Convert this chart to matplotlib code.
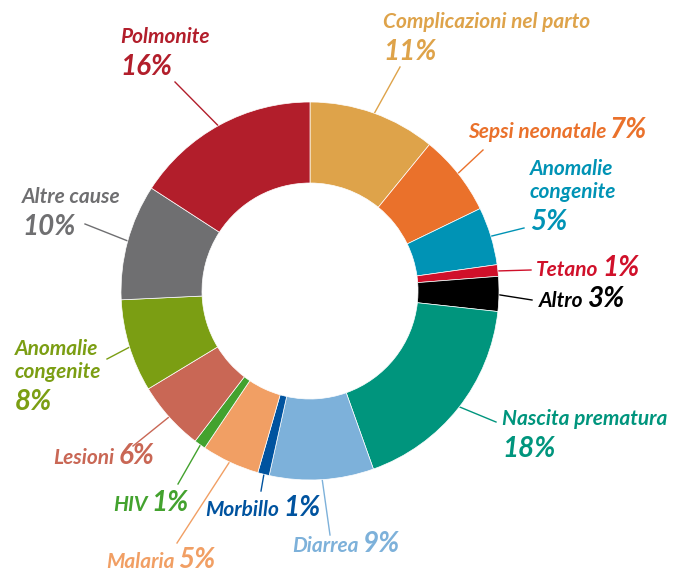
import matplotlib.pyplot as plt
import numpy as np

# Cause di morte neonatale (%), in senso orario dalle ore 12
causes = ["Complicazioni nel parto", "Sepsi neonatale", "Anomalie\ncongenite", "Tetano", "Altro",
          "Nascita prematura", "Diarrea", "Morbillo", "Malaria", "HIV", "Lesioni",
          "Anomalie\ncongenite", "Altre cause", "Polmonite"]
shares = [11, 7, 5, 1, 3, 18, 9, 1, 5, 1, 6, 8, 10, 16]
colors = ["#DEA34A", "#EA712B", "#0093B5", "#D0102A", "#000000",
          "#00957D", "#7DB1DA", "#00539F", "#F19F64", "#43A22E", "#C96755",
          "#7B9E13", "#6F6F71", "#B21E2B"]

# label layout in image pixels: left x, baseline of first line, percent inline?
label_pos = [(383, 28, False), (468, 138, True), (530, 175, False), (536, 276, True),
             (539, 307, True), (502, 425, False), (292, 552, True), (205, 516, True),
             (106, 568, True), (113, 511, True), (53, 464, True), (15, 355, False),
             (22, 203, False), (120, 43, False)]
leader_end = [(400, 67), (483, 150), (524, 228), (531, 270), (532, 300), (496, 422),
              (330, 535), (261, 491), (177, 543), (178, 484), (133, 446), (107, 359),
              (85, 224), (175, 82)]

W, H = 681, 572
cx, cy, r_out, ring = 310, 291, 189, 81


def Y(y):
    return H - y


fig = plt.figure(figsize=(W / 100, H / 100), dpi=100)
ax = fig.add_axes([0, 0, 1, 1])

wedges, _ = ax.pie(shares, colors=colors, startangle=90, counterclock=False,
                   radius=r_out, center=(cx, Y(cy)),
                   wedgeprops=dict(width=ring, edgecolor="white", linewidth=0.5))
ax.set_xlim(0, W)
ax.set_ylim(0, H)
ax.set_aspect("equal")
ax.axis("off")

font = dict(family=["Lato", "DejaVu Sans"], fontweight="bold", style="italic")
name_size, pct_size = 15, 20
step = 23
inline = []

for w, name, pct, col, (lx, ly, same_line), (ex, ey) in zip(
        wedges, causes, shares, colors, label_pos, leader_end):
    mid = np.deg2rad((w.theta1 + w.theta2) / 2)
    px = cx + (r_out - 6) * np.cos(mid)
    py = Y(cy) + (r_out - 6) * np.sin(mid)
    ax.plot([px, ex], [py, Y(ey)], color=col, lw=1, zorder=0)

    lines = name.split("\n")
    t = None
    for i, line in enumerate(lines):
        t = ax.text(lx, Y(ly + i * step), line, fontsize=name_size, color=col,
                    ha="left", va="baseline", **font)
    last = ly + (len(lines) - 1) * step
    if same_line:
        inline.append((t, f"{pct}%", col, Y(last)))
    else:
        ax.text(lx, Y(last + 32), f"{pct}%", fontsize=pct_size,
                color=col, ha="left", va="baseline", **font)

fig.canvas.draw()
for t, s, col, base in inline:
    bb = t.get_window_extent()
    ax.text(bb.x1 + 4, base, s, fontsize=pct_size, color=col,
            ha="left", va="baseline", **font)

fig.savefig("out.png", dpi=100)
